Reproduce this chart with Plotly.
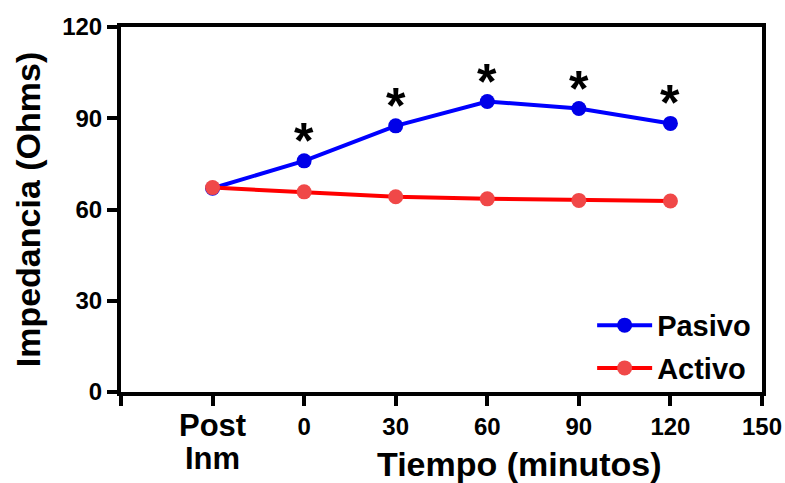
import plotly.graph_objects as go

# Data
x_vals = [-30, 0, 30, 60, 90, 120]
pasivo = [67.0, 76.0, 87.5, 95.5, 93.2, 88.3]
activo = [67.2, 65.8, 64.2, 63.5, 63.0, 62.8]
sig_x = [0, 30, 60, 90, 120]
sig_y = [76.0, 87.5, 95.5, 93.2, 88.3]
x_tickvals = [-60, -30, 0, 30, 60, 90, 120, 150]
x_ticktext = ["", "", "0", "30", "60", "90", "120", "150"]
y_tickvals = [0, 30, 60, 90, 120]

FONT = "Liberation Sans, Arial, sans-serif"

fig = go.Figure()
fig.add_trace(go.Scatter(
    x=x_vals, y=pasivo, mode="lines+markers", name="Pasivo",
    legendgroup="p",
    line=dict(color="#0000FF", width=4),
    marker=dict(color="#0000E8", size=15),
))
fig.add_trace(go.Scatter(
    x=x_vals, y=activo, mode="lines+markers", name="Activo",
    legendgroup="a",
    line=dict(color="#FF0000", width=4),
    marker=dict(color="#F04848", size=15),
))

for sx, sy in zip(sig_x, sig_y):
    fig.add_annotation(x=sx, y=sy, xref="x", yref="y", text="*", showarrow=False,
                       yanchor="middle", xanchor="center", yshift=20,
                       font=dict(size=50, color="black", family=FONT, weight="bold"))

lab_font = dict(size=31, color="black", family=FONT, weight="bold")
fig.add_annotation(x=-30, y=-0.092, xref="x", yref="paper", text="Post",
                   showarrow=False, font=lab_font, xanchor="center", yanchor="middle")
fig.add_annotation(x=-30, y=-0.182, xref="x", yref="paper", text="Inm",
                   showarrow=False, font=lab_font, xanchor="center", yanchor="middle")
fig.add_annotation(x=0.622, y=-0.196, xref="paper", yref="paper", text="Tiempo (minutos)",
                   showarrow=False, font=dict(size=34, color="black", family=FONT, weight="bold"),
                   xanchor="center", yanchor="middle")

fig.update_layout(
    width=785, height=483,
    margin=dict(l=121, r=23, t=27, b=91, autoexpand=False),
    paper_bgcolor="white", plot_bgcolor="white",
    font=dict(family=FONT, color="black", weight="bold"),
    showlegend=True,
    legend=dict(x=0.735, y=-0.005, xanchor="left", yanchor="bottom",
                font=dict(size=29, family=FONT, color="black", weight="bold"),
                itemwidth=55,
                bgcolor="rgba(0,0,0,0)", tracegroupgap=2, traceorder="grouped"),
    xaxis=dict(range=[-60, 150], tickvals=x_tickvals, ticktext=x_ticktext,
               showline=True, linecolor="black", linewidth=4, mirror=True,
               ticks="outside", ticklen=10, tickwidth=4, tickcolor="black",
               showgrid=False, zeroline=False, automargin=False,
               tickfont=dict(size=24, family=FONT, weight="bold")),
    yaxis=dict(range=[0, 120], tickvals=y_tickvals,
               showline=True, linecolor="black", linewidth=4, mirror=True,
               ticks="outside", ticklen=10, tickwidth=4, tickcolor="black",
               showgrid=False, zeroline=False, automargin=False,
               tickfont=dict(size=24, family=FONT, weight="bold"),
               title=dict(text="Impedancia (Ohms)", standoff=12,
                          font=dict(size=34, family=FONT, weight="bold"))),
)

fig.write_html("out.html", config={"displayModeBar": False},
               post_script="document.body.style.margin='0';document.body.style.overflow='hidden';")
